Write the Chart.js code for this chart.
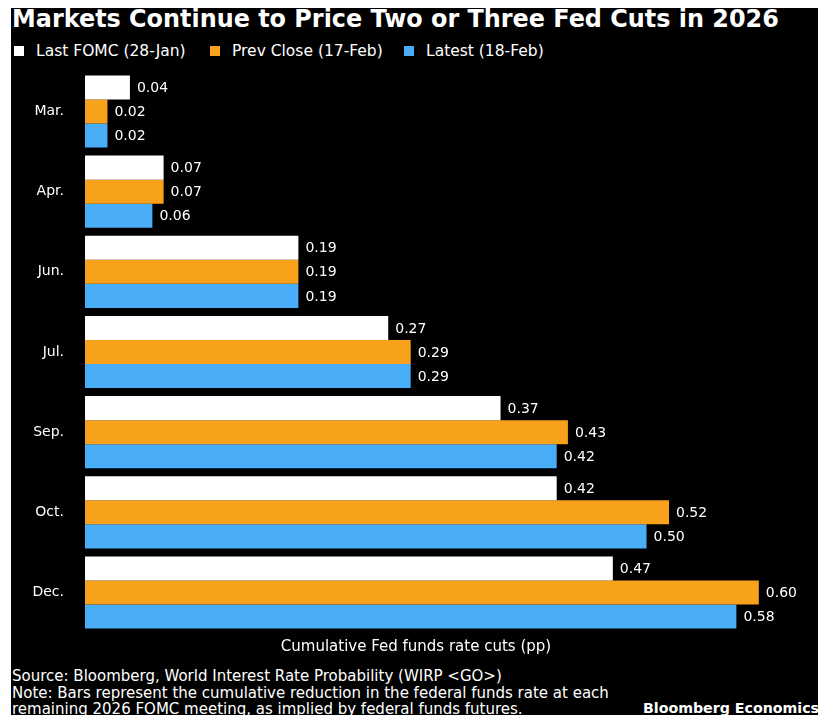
<!DOCTYPE html>
<html>
<head>
<meta charset="utf-8">
<script src="https://cdn.jsdelivr.net/npm/chart.js@4"></script>
<style>
  body { margin: 0; background: #fff; width: 824px; height: 720px; position: relative; overflow: hidden; font-family: "DejaVu Sans", Verdana, sans-serif; }
  #panel { position: absolute; left: 11px; top: 8px; width: 807px; height: 707px; background: #000; }
  .txt { position: absolute; color: #fff; white-space: nowrap; line-height: 1; }
  #title { left: 12px; top: 8px; font-size: 23.9px; font-weight: bold; }
  .leg { position: absolute; top: 44px; font-size: 15.5px; color: #fff; line-height: 1; }
  .leg i { display: inline-block; width: 10px; height: 10px; margin-right: 12px; vertical-align: 0px; }
  #xtitle { left: 0; width: 832px; text-align: center; top: 639px; font-size: 15px; }
  #foot { left: 12px; top: 668px; font-size: 15px; line-height: 16.5px; }
  #brand { right: 5px; top: 701px; font-size: 14.2px; font-weight: bold; }
  #box { position: absolute; left: 11px; top: 63px; width: 807px; height: 578px; }
</style>
</head>
<body>
<div id="panel"></div>
<div class="txt" id="title">Markets Continue to Price Two or Three Fed Cuts in 2026</div>
<div id="legend"></div>
<div id="box"><canvas id="chart"></canvas></div>
<div class="txt" id="xtitle">Cumulative Fed funds rate cuts (pp)</div>
<div class="txt" id="foot">Source: Bloomberg, World Interest Rate Probability (WIRP &lt;GO&gt;)<br>Note: Bars represent the cumulative reduction in the federal funds rate at each<br>remaining 2026 FOMC meeting, as implied by federal funds futures.</div>
<div class="txt" id="brand">Bloomberg Economics</div>

<script>
const meetings = ["Mar.", "Apr.", "Jun.", "Jul.", "Sep.", "Oct.", "Dec."];
const lastFomc = [0.04, 0.07, 0.19, 0.27, 0.37, 0.42, 0.47];
const prevClose = [0.02, 0.07, 0.19, 0.29, 0.43, 0.52, 0.60];
const latest = [0.02, 0.06, 0.19, 0.29, 0.42, 0.50, 0.58];
const seriesNames = ["Last FOMC (28-Jan)", "Prev Close (17-Feb)", "Latest (18-Feb)"];
const colors = ["#ffffff", "#f8a21c", "#4aadf7"];

// legend
const legendX = [14, 210, 404];
seriesNames.forEach(function (name, i) {
  const el = document.createElement("div");
  el.className = "leg";
  el.style.left = legendX[i] + "px";
  el.innerHTML = '<i style="background:' + colors[i] + '"></i>' + name;
  document.body.appendChild(el);
});

// value labels
const valueLabels = {
  id: "valueLabels",
  afterDatasetsDraw(chart) {
    const ctx = chart.ctx;
    ctx.save();
    ctx.font = "14px 'DejaVu Sans'";
    ctx.fillStyle = "#fff";
    ctx.textBaseline = "middle";
    chart.data.datasets.forEach(function (ds, i) {
      chart.getDatasetMeta(i).data.forEach(function (bar, j) {
        ctx.fillText(ds.data[j].toFixed(2), bar.x + 7, bar.y + 1);
      });
    });
    ctx.restore();
  },
};

new Chart(document.getElementById("chart"), {
  type: "bar",
  data: {
    labels: meetings,
    datasets: [
      { label: seriesNames[0], data: lastFomc, backgroundColor: colors[0] },
      { label: seriesNames[1], data: prevClose, backgroundColor: colors[1] },
      { label: seriesNames[2], data: latest, backgroundColor: colors[2] },
    ],
  },
  options: {
    indexAxis: "y",
    responsive: true,
    maintainAspectRatio: false,
    animation: false,
    layout: { padding: { right: 3 } },
    datasets: { bar: { categoryPercentage: 0.9, barPercentage: 1.0, borderWidth: 0 } },
    plugins: { legend: { display: false }, tooltip: { enabled: false } },
    scales: {
      x: { display: false, min: 0, max: 0.65 },
      y: {
        grid: { display: false, drawTicks: true, tickLength: 21 },
        border: { display: false },
        ticks: { color: "#fff", font: { family: "DejaVu Sans", size: 14 }, padding: 0 },
        afterFit: function (scale) { scale.width = 74; },
      },
    },
  },
  plugins: [valueLabels],
});
</script>
</body>
</html>
